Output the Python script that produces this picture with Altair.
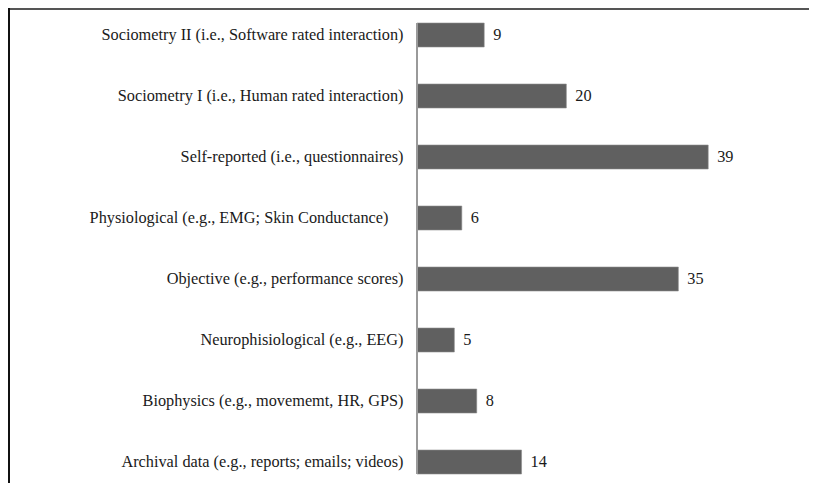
import altair as alt
import pandas as pd

categories = [
    "Sociometry II (i.e., Software rated interaction)",
    "Sociometry I (i.e., Human rated interaction)",
    "Self-reported (i.e., questionnaires)",
    "Physiological (e.g., EMG; Skin Conductance)",
    "Objective (e.g., performance scores)",
    "Neurophisiological (e.g., EEG)",
    "Biophysics (e.g., movememt, HR, GPS)",
    "Archival data (e.g., reports; emails; videos)",
]
values = [9, 20, 39, 6, 35, 5, 8, 14]

df = pd.DataFrame({"cat": categories, "value": values})

FONT = "Liberation Serif, Times New Roman, Times, serif"

yenc = alt.Y(
    "cat:N",
    sort=categories,
    scale=alt.Scale(paddingInner=0.607, paddingOuter=0.156, align=0.737),
    axis=alt.Axis(
        title=None, domain=False, ticks=False, grid=False,
        labelPadding={
            "condition": {"test": "indexof(datum.value, 'Physiological') == 0", "value": 29},
            "value": 14,
        },
        labelFont=FONT, labelFontSize=16.3,
        labelColor="#1a1a1a", labelLimit=600,
    ),
)
xenc = alt.X("value:Q", scale=alt.Scale(domain=[0, 45], nice=False), axis=None)

base = alt.Chart(df)

bars = base.mark_bar(color="#606060", stroke="#8c8c8c", strokeWidth=0.6).encode(y=yenc, x=xenc)

labels = base.mark_text(
    align="left", baseline="middle", dx=9, font=FONT, fontSize=16.3, color="#1a1a1a"
).encode(y=yenc, x=xenc, text="value:Q")

axis_line = alt.Chart(pd.DataFrame({"v": [0]})).mark_rule(
    color="#9a9a9a", strokeWidth=2
).encode(x=alt.X("v:Q"), y=alt.value(14), y2=alt.value(465))

frame_top = alt.Chart(pd.DataFrame({"v": [0]})).mark_rule(
    color="#555555", strokeWidth=2
).encode(x=alt.value(-409), x2=alt.value(392), y=alt.value(0))

frame_left = alt.Chart(pd.DataFrame({"v": [0]})).mark_rule(
    color="#111111", strokeWidth=2
).encode(x=alt.value(-408), y=alt.value(-1), y2=alt.value(475))

chart = alt.layer(bars, labels, axis_line, frame_top, frame_left).properties(
    width=336,
    height=470,
    autosize=alt.AutoSizeParams(type="none"),
    padding={"left": 409, "top": 1, "right": 56, "bottom": 4},
).configure_view(strokeWidth=0)

chart.save("out.html", embed_options={"renderer": "svg", "actions": False})
